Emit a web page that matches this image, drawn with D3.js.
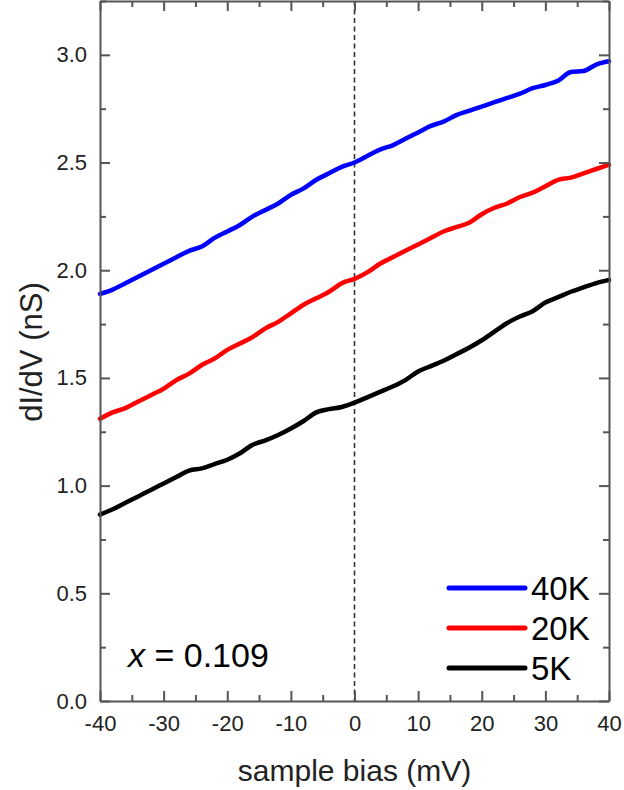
<!DOCTYPE html>
<html>
<head>
<meta charset="utf-8">
<script src="https://cdn.jsdelivr.net/npm/d3@7"></script>
<style>
  html, body { margin: 0; padding: 0; background: #fff; }
  svg { display: block; font-family: "Liberation Sans", Arial, sans-serif; }
</style>
</head>
<body>
<svg id="chart" width="624" height="790"></svg>
<script>
// Sample bias (mV)
const bias = [-40, -38, -36, -34, -32, -30, -28, -26, -24, -22, -20, -18, -16, -14, -12, -10, -8, -6, -4, -2,
  0, 2, 4, 6, 8, 10, 12, 14, 16, 18, 20, 22, 24, 26, 28, 30, 32, 34, 36, 38, 40];

// dI/dV (nS) at each temperature
const g40K = [1.89, 1.91, 1.94, 1.97, 2.00, 2.03, 2.06, 2.09, 2.11, 2.15, 2.18, 2.21, 2.25, 2.28, 2.31, 2.35, 2.38, 2.42, 2.45, 2.48,
  2.50, 2.53, 2.56, 2.58, 2.61, 2.64, 2.67, 2.69, 2.72, 2.74, 2.76, 2.78, 2.80, 2.82, 2.845, 2.86, 2.88, 2.92, 2.925, 2.955, 2.97];
const g20K = [1.31, 1.34, 1.36, 1.39, 1.42, 1.45, 1.49, 1.52, 1.56, 1.59, 1.63, 1.66, 1.69, 1.73, 1.76, 1.80, 1.84, 1.87, 1.90, 1.94,
  1.96, 1.99, 2.03, 2.06, 2.09, 2.12, 2.15, 2.18, 2.20, 2.22, 2.26, 2.29, 2.31, 2.34, 2.36, 2.39, 2.42, 2.43, 2.45, 2.47, 2.49];
const g5K = [0.865, 0.89, 0.92, 0.95, 0.98, 1.01, 1.04, 1.07, 1.08, 1.10, 1.12, 1.15, 1.19, 1.21, 1.235, 1.265, 1.30, 1.34, 1.355, 1.365,
  1.385, 1.41, 1.435, 1.46, 1.49, 1.53, 1.555, 1.58, 1.61, 1.64, 1.675, 1.715, 1.755, 1.785, 1.81, 1.85, 1.875, 1.90, 1.92, 1.94, 1.955];

const seriesNames = ["40K", "20K", "5K"];
const seriesColors = ["#0000ff", "#ff0000", "#000000"];
const seriesValues = [g40K, g20K, g5K];

const xMajorTicks = [-40, -30, -20, -10, 0, 10, 20, 30, 40];
const xMinorTicks = [-35, -25, -15, -5, 5, 15, 25, 35];
const yMajorTicks = [0.0, 0.5, 1.0, 1.5, 2.0, 2.5, 3.0];
const yMinorTicks = [0.25, 0.75, 1.25, 1.75, 2.25, 2.75, 3.25];

const annotation = "0.109";

const svg = d3.select("#chart");
const m = { left: 100, right: 15, top: 1, bottom: 89 };
const W = 624, H = 790;
const pw = W - m.left - m.right, ph = H - m.top - m.bottom;

const x = d3.scaleLinear().domain([-40, 40]).range([m.left, m.left + pw]);
const y = d3.scaleLinear().domain([0, 3.25]).range([m.top + ph, m.top]);

const axisColor = "#555";
const g = svg.append("g");

// Zero-bias reference line
g.append("line")
  .attr("x1", x(0)).attr("x2", x(0))
  .attr("y1", y(3.25)).attr("y2", y(0))
  .attr("stroke", "#333").attr("stroke-width", 1.6)
  .attr("stroke-dasharray", "5,3.5");

// Spectra
const line = d3.line()
  .x((d, i) => x(bias[i]))
  .y(d => y(d))
  .curve(d3.curveMonotoneX);

seriesValues.forEach((vals, k) => {
  g.append("path")
    .datum(vals)
    .attr("d", line)
    .attr("fill", "none")
    .attr("stroke", seriesColors[k])
    .attr("stroke-width", 4.5)
    .attr("stroke-linejoin", "round")
    .attr("stroke-linecap", "round");
});

// Frame axes with inward ticks
function styleAxis(sel) {
  sel.selectAll(".domain").attr("stroke", axisColor).attr("stroke-width", 2);
  sel.selectAll(".tick line").attr("stroke", axisColor).attr("stroke-width", 2);
  sel.selectAll("text").attr("fill", "#222").style("font-size", "22px")
    .style("font-family", "'Liberation Sans', Arial, sans-serif");
}

function addX(pos, gen, labels, major) {
  const a = gen(x).tickValues(major ? xMajorTicks : xMinorTicks)
    .tickSizeInner(major ? -10 : -6).tickSizeOuter(0)
    .tickPadding(14)
    .tickFormat(labels ? (d => String(d)) : "");
  const sel = svg.append("g").attr("transform", `translate(0,${pos})`).call(a);
  styleAxis(sel);
  if (!major) sel.select(".domain").remove();
  return sel;
}
function addY(pos, gen, labels, major) {
  const a = gen(y).tickValues(major ? yMajorTicks : yMinorTicks)
    .tickSizeInner(major ? -10 : -6).tickSizeOuter(0)
    .tickPadding(13)
    .tickFormat(labels ? (d => d.toFixed(1)) : "");
  const sel = svg.append("g").attr("transform", `translate(${pos},0)`).call(a);
  styleAxis(sel);
  if (!major) sel.select(".domain").remove();
  return sel;
}

addX(y(0), d3.axisBottom, true, true);
addX(y(0), d3.axisBottom, false, false);
addX(y(3.25), d3.axisTop, false, true);
addX(y(3.25), d3.axisTop, false, false);
addY(x(-40), d3.axisLeft, true, true);
addY(x(-40), d3.axisLeft, false, false);
addY(x(40), d3.axisRight, false, true);
addY(x(40), d3.axisRight, false, false);

// Axis titles
svg.append("text")
  .attr("x", x(0)).attr("y", 781)
  .attr("text-anchor", "middle")
  .style("font-size", "30px").attr("fill", "#222")
  .text("sample bias (mV)");

svg.append("text")
  .attr("transform", `translate(42,${y(1.62)}) rotate(-90)`)
  .attr("text-anchor", "middle")
  .style("font-size", "31px").attr("fill", "#222")
  .text("dI/dV (nS)");

// Doping annotation
const ann = svg.append("text")
  .attr("x", 128).attr("y", 667)
  .style("font-size", "34px").attr("fill", "#000");
ann.append("tspan").style("font-style", "italic").text("x");
ann.append("tspan").text(" = " + annotation);

// Legend
const legend = svg.append("g");
seriesNames.forEach((name, k) => {
  const ly = 588 + k * 40;
  legend.append("line")
    .attr("x1", 449).attr("x2", 525)
    .attr("y1", ly).attr("y2", ly)
    .attr("stroke", seriesColors[k]).attr("stroke-width", 5)
    .attr("stroke-linecap", "round");
  legend.append("text")
    .attr("x", 531).attr("y", ly + 12)
    .style("font-size", "33px").attr("fill", "#000")
    .text(name);
});
</script>
</body>
</html>
